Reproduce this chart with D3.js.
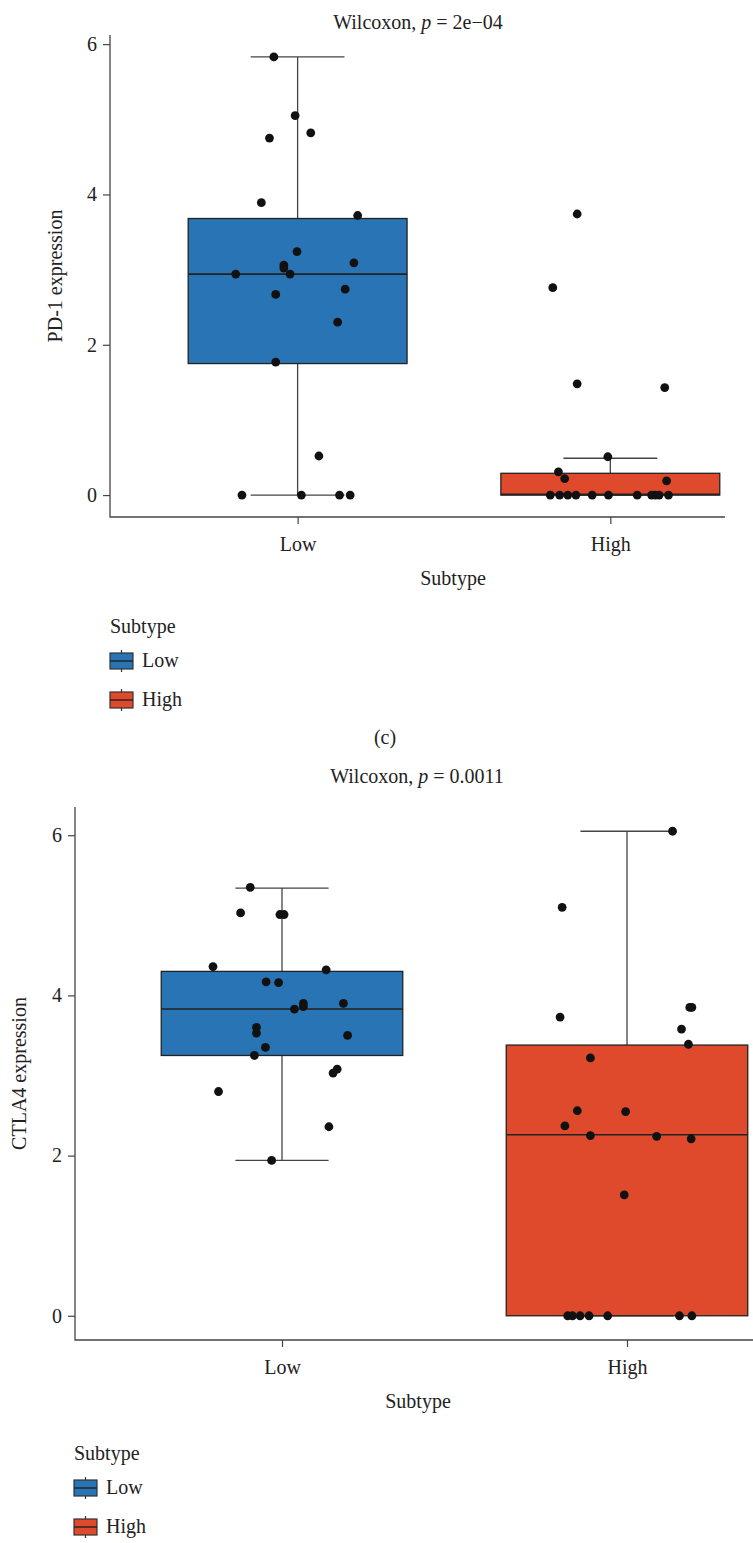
<!DOCTYPE html>
<html>
<head>
<meta charset="utf-8">
<script src="https://cdn.jsdelivr.net/npm/d3@7"></script>
<style>
	body { margin: 0; background: #fff; }
	svg text { font-family: "Liberation Serif", "DejaVu Serif", serif; font-size: 20px; fill: #222; }
</style>
</head>
<body>
<div id="chart-area"></div>
<script>

// categories
let subtypes = ["Low", "High"];
let subtypeColours = ["#2874b4", "#e04a2c"];

// PD-1 expression, points (jitter in units of +-0.2 category)
let pd1Low = [5.83, 5.05, 4.75, 4.82, 3.89, 3.72, 3.24, 3.09, 3.06, 3.02, 2.94, 2.94, 2.67, 2.74, 2.30, 1.77, 0.52, 0, 0, 0, 0];
let pd1LowJitter = [-0.38, -0.04, -0.45, 0.21, -0.58, 0.96, -0.01, 0.90, -0.22, -0.22, -0.99, -0.12, -0.35, 0.76, 0.64, -0.35, 0.34, -0.89, 0.06, 0.67, 0.84];
let pd1High = [3.74, 2.76, 1.48, 1.43, 0.51, 0.31, 0.22, 0.19, 0, 0, 0, 0, 0, 0, 0, 0, 0, 0, 0];
let pd1HighJitter = [-0.53, -0.92, -0.53, 0.87, -0.04, -0.83, -0.73, 0.90, -0.96, -0.81, -0.68, -0.55, -0.29, -0.03, 0.43, 0.66, 0.72, 0.78, 0.93];
// box stats: lower whisker, q1, median, q3, upper whisker
let pd1BoxLow = [0, 1.75, 2.94, 3.68, 5.83];
let pd1BoxHigh = [0, 0, 0.01, 0.29, 0.49];

// CTLA4 expression
let ctla4Low = [5.35, 5.03, 5.01, 5.01, 4.36, 4.32, 4.17, 4.16, 3.90, 3.86, 3.83, 3.90, 3.60, 3.53, 3.50, 3.35, 3.25, 3.03, 3.08, 2.80, 2.36, 1.94];
let ctla4LowJitter = [-0.46, -0.60, -0.03, 0.03, -1.0, 0.64, -0.23, -0.05, 0.31, 0.31, 0.18, 0.89, -0.37, -0.37, 0.95, -0.24, -0.40, 0.74, 0.80, -0.92, 0.68, -0.15];
let ctla4High = [6.05, 5.10, 3.73, 3.85, 3.85, 3.58, 3.39, 3.22, 2.56, 2.55, 2.37, 2.25, 2.24, 2.21, 1.51, 0, 0, 0, 0, 0, 0, 0];
let ctla4HighJitter = [0.66, -0.94, -0.97, 0.94, 0.91, 0.79, 0.89, -0.53, -0.72, -0.02, -0.90, -0.53, 0.43, 0.93, -0.04, -0.86, -0.79, -0.68, -0.55, -0.28, 0.76, 0.94];
let ctla4BoxLow = [1.94, 3.25, 3.83, 4.30, 5.34];
let ctla4BoxHigh = [0, 0, 2.26, 3.38, 6.05];

let yTicks = [0, 2, 4, 6];


class BoxJitter {

	constructor(svg, opts, points, jitters, boxes) {
		this.svg = svg;
		this.opts = opts;
		this.points = points;
		this.jitters = jitters;
		this.boxes = boxes;
	}

	initVis() {
		let vis = this;
		let o = vis.opts;

		vis.g = vis.svg.append("g");

		// discrete x positions 1, 2 with 0.6 expansion on each side (ggplot style)
		vis.x = d3.scaleLinear()
			.domain([0.4, 2.6])
			.range([o.left, o.left + 2.2 * o.step]);

		// 5% expansion of the data range
		let all = vis.points.flat().concat(vis.boxes.flat());
		let lo = d3.min(all), hi = d3.max(all);
		let pad = (hi - lo) * 0.05;
		vis.y = d3.scaleLinear()
			.domain([lo - pad, hi + pad])
			.range([o.bottom, o.top]);

		vis.wrangleData();
	}

	wrangleData() {
		let vis = this;

		vis.displayData = [];
		subtypes.forEach((s, i) => {
			vis.points[i].forEach((v, j) => {
				vis.displayData.push({subtype: s, pos: i + 1, value: v, jitter: vis.jitters[i][j] * 0.2});
			});
		});

		vis.boxData = subtypes.map((s, i) => ({
			subtype: s, pos: i + 1, colour: subtypeColours[i],
			wlo: vis.boxes[i][0], q1: vis.boxes[i][1], med: vis.boxes[i][2], q3: vis.boxes[i][3], whi: vis.boxes[i][4]
		}));

		vis.updateVis();
	}

	updateVis() {
		let vis = this;
		let o = vis.opts;
		let halfBox = 0.35, halfCap = o.cap / 2;

		// axes
		let yAxis = d3.axisLeft(vis.y).tickValues(yTicks).tickFormat(d3.format("d"))
			.tickSize(7).tickSizeOuter(0).tickPadding(6);
		let yg = vis.g.append("g")
			.attr("transform", "translate(" + o.left + ",0)")
			.call(yAxis)
			.attr("font-size", null).attr("font-family", null);
		yg.select(".domain").remove();
		yg.selectAll("line").attr("stroke", "#444").attr("stroke-width", 1.2);

		let xAxis = d3.axisBottom(vis.x).tickValues([1, 2]).tickFormat(d => subtypes[d - 1])
			.tickSize(7).tickSizeOuter(0).tickPadding(13);
		let xg = vis.g.append("g")
			.attr("transform", "translate(0," + o.bottom + ")")
			.call(xAxis)
			.attr("font-size", null).attr("font-family", null);
		xg.select(".domain").remove();
		xg.selectAll("line").attr("stroke", "#444").attr("stroke-width", 1.2);

		// axis lines (L shape)
		vis.g.append("path")
			.attr("d", "M" + o.left + "," + o.top + "V" + o.bottom + "H" + o.right)
			.attr("fill", "none")
			.attr("stroke", "#444")
			.attr("stroke-width", 1.3);

		// whiskers
		let wh = vis.g.selectAll(".whisker").data(vis.boxData).enter().append("g").attr("class", "whisker");
		wh.append("line")
			.attr("x1", d => vis.x(d.pos)).attr("x2", d => vis.x(d.pos))
			.attr("y1", d => vis.y(d.wlo)).attr("y2", d => vis.y(d.whi));
		wh.append("line")
			.attr("x1", d => vis.x(d.pos - halfCap)).attr("x2", d => vis.x(d.pos + halfCap))
			.attr("y1", d => vis.y(d.whi)).attr("y2", d => vis.y(d.whi));
		wh.append("line")
			.attr("x1", d => vis.x(d.pos - halfCap)).attr("x2", d => vis.x(d.pos + halfCap))
			.attr("y1", d => vis.y(d.wlo)).attr("y2", d => vis.y(d.wlo));
		wh.selectAll("line").attr("stroke", "#444").attr("stroke-width", 1.3);

		// boxes
		let bx = vis.g.selectAll(".box").data(vis.boxData).enter().append("g").attr("class", "box");
		bx.append("rect")
			.attr("x", d => vis.x(d.pos - halfBox))
			.attr("width", d => vis.x(d.pos + halfBox) - vis.x(d.pos - halfBox))
			.attr("y", d => vis.y(d.q3))
			.attr("height", d => vis.y(d.q1) - vis.y(d.q3))
			.attr("fill", d => d.colour)
			.attr("stroke", "#222")
			.attr("stroke-width", 1.3);
		bx.append("line")
			.attr("x1", d => vis.x(d.pos - halfBox)).attr("x2", d => vis.x(d.pos + halfBox))
			.attr("y1", d => vis.y(d.med)).attr("y2", d => vis.y(d.med))
			.attr("stroke", "#222")
			.attr("stroke-width", 1.6);

		// jittered points
		vis.g.selectAll(".dot").data(vis.displayData).enter().append("circle")
			.attr("class", d => "dot " + d.subtype)
			.attr("cx", d => vis.x(d.pos + d.jitter))
			.attr("cy", d => vis.y(d.value))
			.attr("r", 4.4)
			.attr("fill", "#111");

		// title
		let t = vis.g.append("text")
			.attr("x", o.titleX).attr("y", o.titleY)
			.attr("text-anchor", "middle");
		t.append("tspan").text("Wilcoxon, ");
		t.append("tspan").attr("font-style", "italic").text("p");
		t.append("tspan").text(" = " + o.pValue);

		// axis titles
		vis.g.append("text")
			.attr("transform", "translate(" + o.yTitleX + "," + ((o.top + o.bottom) / 2) + ") rotate(-90)")
			.attr("text-anchor", "middle")
			.text(o.yTitle);
		vis.g.append("text")
			.attr("x", o.xTitleX).attr("y", o.bottom + 68)
			.attr("text-anchor", "middle")
			.text("Subtype");

		// legend
		let lg = vis.g.append("g").attr("transform", "translate(" + o.legendX + "," + o.legendY + ")");
		lg.append("text").attr("x", 0).attr("y", 0).text("Subtype");
		let keys = lg.selectAll(".key").data(subtypes).enter().append("g")
			.attr("class", "key")
			.attr("transform", (d, i) => "translate(0," + (20 + i * 39) + ")");
		keys.append("line")
			.attr("x1", 11.5).attr("x2", 11.5).attr("y1", -3).attr("y2", 19)
			.attr("stroke", "#333").attr("stroke-width", 1.2);
		keys.append("rect")
			.attr("width", 23).attr("height", 16)
			.attr("fill", (d, i) => subtypeColours[i])
			.attr("stroke", "#333").attr("stroke-width", 1.2);
		keys.append("line")
			.attr("x1", 0).attr("x2", 23).attr("y1", 8).attr("y2", 8)
			.attr("stroke", "#222").attr("stroke-width", 1.4);
		keys.append("text")
			.attr("x", 32).attr("y", 14)
			.text(d => d);
	}
}


let svg = d3.select("#chart-area").append("svg")
	.attr("width", 753)
	.attr("height", 1543);

let pd1Plot = new BoxJitter(svg, {
	left: 110, right: 725, top: 35, bottom: 517, step: 312.7, cap: 0.3,
	titleX: 418, titleY: 29, pValue: "2e\u221204",
	yTitle: "PD-1 expression", yTitleX: 62, xTitleX: 453,
	legendX: 110, legendY: 633
}, [pd1Low, pd1High], [pd1LowJitter, pd1HighJitter], [pd1BoxLow, pd1BoxHigh]);
pd1Plot.initVis();

svg.append("text")
	.attr("x", 385).attr("y", 744)
	.attr("text-anchor", "middle")
	.text("(c)");

let ctla4Plot = new BoxJitter(svg, {
	left: 75, right: 753, top: 807, bottom: 1340, step: 345, cap: 0.27,
	titleX: 417, titleY: 783, pValue: "0.0011",
	yTitle: "CTLA4 expression", yTitleX: 26, xTitleX: 418,
	legendX: 74, legendY: 1460
}, [ctla4Low, ctla4High], [ctla4LowJitter, ctla4HighJitter], [ctla4BoxLow, ctla4BoxHigh]);
ctla4Plot.initVis();

</script>
</body>
</html>
